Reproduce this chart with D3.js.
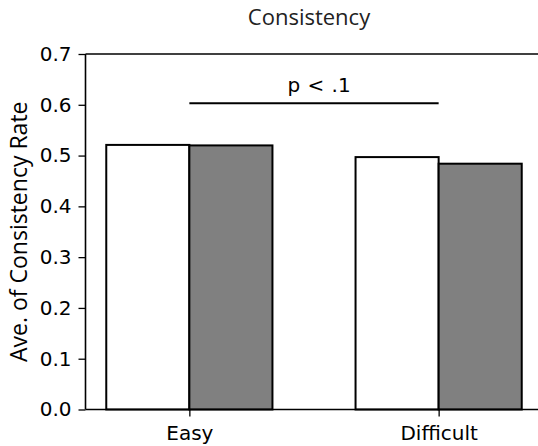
<!DOCTYPE html>
<html>
<head>
<meta charset="utf-8">
<script src="https://cdn.jsdelivr.net/npm/d3@7"></script>
<style>
  html, body { margin: 0; padding: 0; background: #fff; }
  svg { display: block; }
</style>
</head>
<body>
<svg id="chart" width="538" height="446"></svg>
<script>
// Conditions on the x axis and the two bar groups per condition
const categories = ["Easy", "Difficult"];
const seriesA = [0.521, 0.497];   // white bars
const seriesB = [0.520, 0.484];   // grey bars
const yTicks = [0.0, 0.1, 0.2, 0.3, 0.4, 0.5, 0.6, 0.7];
const sigBracket = { from: "Easy", to: "Difficult", y: 0.603, label: "p < .1" };

const svg = d3.select("#chart");
const margin = { left: 85.5, top: 54, bottom: 409.5 };
const axisRight = 542.5;

const barW = 1 / 3;
// numeric position of each category, bars sit either side of it
const xIdx = d3.scaleLinear()
  .domain([-barW - 0.0833, 1 + barW + 0.0833])
  .range([margin.left, axisRight]);

const y = d3.scaleLinear().domain([0, 0.7]).range([margin.bottom, margin.top]);

const g = svg.append("g");

const bars = [];
categories.forEach((c, i) => {
  bars.push({ x0: i - barW, x1: i, v: seriesA[i], fill: "#ffffff" });
  bars.push({ x0: i, x1: i + barW, v: seriesB[i], fill: "#808080" });
});

g.selectAll("rect.bar").data(bars).enter().append("rect")
  .attr("class", "bar")
  .attr("x", d => xIdx(d.x0))
  .attr("width", d => xIdx(d.x1) - xIdx(d.x0))
  .attr("y", d => y(d.v))
  .attr("height", d => y(0) - y(d.v))
  .attr("fill", d => d.fill)
  .attr("stroke", "#000")
  .attr("stroke-width", 2);

// y axis
const yAxis = d3.axisLeft(y).tickValues(yTicks).tickFormat(d3.format(".1f"))
  .tickSize(7).tickPadding(7);
const ya = g.append("g").attr("transform", `translate(${margin.left},0)`).call(yAxis);
ya.select(".domain").remove();
ya.selectAll(".tick line").attr("stroke", "#000").attr("stroke-width", 1.3);
ya.selectAll(".tick text").attr("font-family", "DejaVu Sans").attr("font-size", 20).attr("fill", "#000");

// x axis
const xAxis = d3.axisBottom(xIdx).tickValues(categories.map((c, i) => i))
  .tickFormat(i => categories[i]).tickSize(7).tickPadding(9);
const xa = g.append("g").attr("transform", `translate(0,${margin.bottom})`).call(xAxis);
xa.select(".domain").remove();
xa.selectAll(".tick line").attr("stroke", "#000").attr("stroke-width", 1.3);
xa.selectAll(".tick text").attr("font-family", "DejaVu Sans").attr("font-size", 20).attr("fill", "#000");

// frame
const frame = g.append("g").attr("stroke", "#000").attr("stroke-width", 1.6).attr("fill", "none");
frame.append("line").attr("x1", margin.left).attr("x2", margin.left).attr("y1", margin.top).attr("y2", margin.bottom);
frame.append("line").attr("x1", margin.left).attr("x2", axisRight).attr("y1", margin.bottom).attr("y2", margin.bottom);
frame.append("line").attr("x1", margin.left).attr("x2", axisRight).attr("y1", margin.top).attr("y2", margin.top);
frame.append("line").attr("x1", axisRight).attr("x2", axisRight).attr("y1", margin.top).attr("y2", margin.bottom);

// significance line and label
const sx0 = xIdx(categories.indexOf(sigBracket.from));
const sx1 = xIdx(categories.indexOf(sigBracket.to));
g.append("line").attr("x1", sx0).attr("x2", sx1)
  .attr("y1", y(sigBracket.y)).attr("y2", y(sigBracket.y))
  .attr("stroke", "#000").attr("stroke-width", 2);
g.append("text").attr("x", (sx0 + sx1) / 2 + 5).attr("y", y(sigBracket.y) - 11)
  .attr("text-anchor", "middle").attr("font-family", "DejaVu Sans").attr("font-size", 20)
  .attr("word-spacing", 1)
  .text(sigBracket.label);

// y label
svg.append("text").attr("transform", `translate(26.5,${(margin.top + margin.bottom) / 2}) rotate(-90)`)
  .attr("text-anchor", "middle").attr("font-family", "Open Sans").attr("font-size", 23)
  .text("Ave. of Consistency Rate");

// title
svg.append("text").attr("x", 309).attr("y", 25).attr("text-anchor", "middle")
  .attr("font-family", "Open Sans").attr("font-size", 22).attr("fill", "#222")
  .text("Consistency");
</script>
</body>
</html>
